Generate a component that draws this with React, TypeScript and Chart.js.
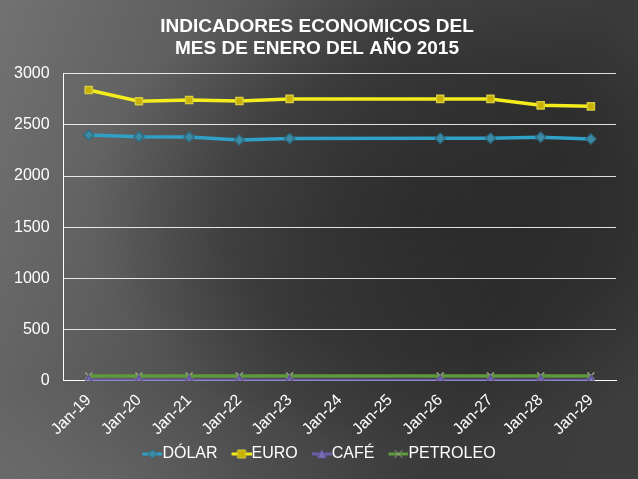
import React, { useEffect, useRef } from "react";
import { Chart, registerables } from "chart.js";

Chart.register(...registerables);

const categories = ["Jan-19", "Jan-20", "Jan-21", "Jan-22", "Jan-23", "Jan-24", "Jan-25", "Jan-26", "Jan-27", "Jan-28", "Jan-29"];
const dolar = [2400, 2384, 2382, 2352, 2366, null, null, 2368, 2369, 2378, 2362];
const euro = [2840, 2730, 2743, 2733, 2753, null, null, 2753, 2753, 2690, 2680];
const cafe = [4, 4, 4, 4, 4, null, null, 4, 4, 4, 4];
const petroleo = [48, 48, 48, 48, 48, null, null, 48, 48, 48, 48];
const seriesNames = ["DÓLAR", "EURO", "CAFÉ", "PETROLEO"];
const yTicks = [0, 500, 1000, 1500, 2000, 2500, 3000];
const titleLines = ["INDICADORES ECONOMICOS DEL", "MES DE ENERO DEL AÑO 2015"];

const FONT = "'Liberation Sans', Arial, sans-serif";

const styles = [
  { line: "#2fa0c6", fill: "#3f8aa3", border: "#2b6f86", point: "rectRot" },
  { line: "#f4ec1c", fill: "#c9b100", border: "#d9cc3c", point: "rect" },
  { line: "#6a5da8", fill: "#7a6cb3", border: "#5d5296", point: "triangle" },
  { line: "#5e9a3c", fill: "#7f8f70", border: "#8e9c80", point: "crossRot" },
];

// icon canvas: 32 wide, visible icon in the right 20px
function makeLegendIcon(i: number): HTMLCanvasElement {
  const c = document.createElement("canvas");
  c.width = 32;
  c.height = 12;
  const ctx = c.getContext("2d")!;
  const s = styles[i];
  const ox = 12;
  ctx.strokeStyle = s.line;
  ctx.lineWidth = 3;
  ctx.beginPath();
  ctx.moveTo(ox, 6);
  ctx.lineTo(ox + 20, 6);
  ctx.stroke();
  ctx.fillStyle = s.fill;
  ctx.strokeStyle = s.border;
  ctx.lineWidth = 1;
  ctx.beginPath();
  const cx = ox + 10;
  if (s.point === "rectRot") {
    ctx.moveTo(cx, 1.5);
    ctx.lineTo(cx + 4.5, 6);
    ctx.lineTo(cx, 10.5);
    ctx.lineTo(cx - 4.5, 6);
    ctx.closePath();
    ctx.fill();
    ctx.stroke();
  } else if (s.point === "rect") {
    ctx.rect(cx - 4, 2, 8, 8);
    ctx.fill();
    ctx.stroke();
  } else if (s.point === "triangle") {
    ctx.moveTo(cx, 1.5);
    ctx.lineTo(cx + 4.5, 10);
    ctx.lineTo(cx - 4.5, 10);
    ctx.closePath();
    ctx.fill();
    ctx.stroke();
  } else {
    ctx.moveTo(cx - 4, 2);
    ctx.lineTo(cx + 4, 10);
    ctx.moveTo(cx + 4, 2);
    ctx.lineTo(cx - 4, 10);
    ctx.stroke();
  }
  return c;
}

const recenter = {
  id: "recenter",
  afterLayout(chart: any) {
    const t = chart.titleBlock;
    if (t) {
      t.left = 0;
      t.right = 634;
      t.width = 634;
    }
    const l = chart.legend;
    if (l) {
      const w = l.right - l.left;
      const shift = 317 - (l.left + l.right) / 2;
      l.left += shift;
      l.right = l.left + w;
    }
  },
};

export default function App() {
  const ref = useRef<HTMLCanvasElement | null>(null);

  useEffect(() => {
    if (!ref.current) return;
    const icons = [0, 1, 2, 3].map(makeLegendIcon);
    const data = [dolar, euro, cafe, petroleo];
    const chart = new Chart(ref.current, {
      type: "line",
      data: {
        labels: categories,
        datasets: data.map((d, i) => ({
          label: seriesNames[i],
          data: d,
          borderColor: styles[i].line,
          backgroundColor: styles[i].fill,
          borderWidth: 3.5,
          pointStyle: styles[i].point as any,
          pointRadius: 5,
          pointBackgroundColor: styles[i].fill,
          pointBorderColor: styles[i].border,
          pointBorderWidth: 1.5,
          spanGaps: true,
          tension: 0,
        })),
      },
      plugins: [recenter],
      options: {
        animation: false,
        responsive: false,
        layout: { padding: { top: 5, left: 0, right: 22, bottom: 7 } },
        scales: {
          x: {
            offset: true,
            grid: { display: false, drawTicks: false },
            border: { display: true, color: "#ffffff", width: 1 },
            afterFit: (axis: any) => {
              axis.height -= 13;
            },
            ticks: {
              color: "#ffffff",
              font: { family: FONT, size: 16 },
              maxRotation: 45,
              minRotation: 45,
              autoSkip: false,
              padding: 10,
            },
          },
          y: {
            min: 0,
            max: 3000,
            afterBuildTicks: (axis: any) => {
              axis.ticks = yTicks.map((v) => ({ value: v }));
            },
            grid: { color: "rgba(255,255,255,0.85)", lineWidth: 1, drawTicks: false },
            border: { display: true, color: "#ffffff", width: 1 },
            ticks: {
              color: "#ffffff",
              font: { family: FONT, size: 16 },
              padding: 14,
              callback: (v: any) => String(v),
            },
          },
        },
        plugins: {
          title: {
            display: true,
            text: titleLines,
            color: "#ffffff",
            font: { family: FONT, size: 19, weight: "bold" },
            lineHeight: 1.2,
            padding: { top: 10, bottom: 13 },
          },
          legend: {
            position: "bottom",
            labels: {
              color: "#ffffff",
              font: { family: FONT, size: 16 },
              usePointStyle: true,
              pointStyleWidth: 16,
              padding: 10,
              generateLabels: (ch: any) => {
                const items = (Chart.defaults.plugins.legend.labels as any).generateLabels(ch);
                items.forEach((it: any, i: number) => {
                  it.pointStyle = icons[i];
                });
                return items;
              },
            },
          },
          tooltip: { enabled: false },
        },
      },
    });
    return () => chart.destroy();
  }, []);

  return (
    <div
      style={{
        position: "fixed",
        left: 0,
        top: 0,
        width: 638,
        height: 479,
        overflow: "hidden",
        background:
          "radial-gradient(ellipse 330px 240px at 420px 210px, rgba(0,0,0,0.32) 0%, rgba(0,0,0,0.22) 60%, rgba(0,0,0,0) 100%), radial-gradient(ellipse 300px 120px at 120px 500px, rgba(255,255,255,0.10) 0%, rgba(255,255,255,0) 100%), linear-gradient(110deg, #727272 0%, #5e5e5e 25%, #474747 50%, #3a3a3a 75%, #3e3e3e 100%)",
      }}
    >
      <canvas ref={ref} width={638} height={479} style={{ display: "block" }} />
    </div>
  );
}
